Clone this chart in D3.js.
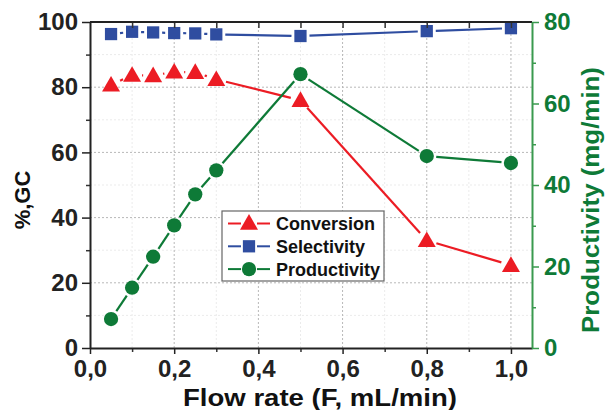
<!DOCTYPE html>
<html>
<head>
<meta charset="utf-8">
<script src="https://cdn.jsdelivr.net/npm/d3@7/dist/d3.min.js"></script>
<style>
  body { margin: 0; background: #fff; }
  svg, svg text { font-family: "Liberation Sans", Arial, sans-serif; font-weight: bold; }
</style>
</head>
<body>
<svg id="chart" width="606" height="410"></svg>
<script>
var flowRates = [0.05, 0.1, 0.15, 0.2, 0.25, 0.3, 0.5, 0.8, 1.0];
var conversion = [80.7, 83.7, 83.6, 84.7, 84.6, 82.4, 76.0, 33.0, 25.4];
var selectivity = [96.3, 97.0, 96.8, 96.6, 96.5, 96.2, 95.7, 97.2, 98.1];
var productivity = [7.1, 14.8, 22.4, 30.1, 37.7, 43.6, 67.2, 47.1, 45.4];
var xTicks = [0, 0.2, 0.4, 0.6, 0.8, 1.0];
var leftTicks = [0, 20, 40, 60, 80, 100];
var rightTicks = [0, 20, 40, 60, 80];
var seriesNames = ['Conversion', 'Selectivity', 'Productivity'];

var RED = '#ec1c24', BLUE = '#2f4da0', GREEN = '#0e7a37', AXGREEN = '#3a9a4e';
var FONT = '"Liberation Sans", Arial, sans-serif';

var svg = d3.select('#chart');
var x = d3.scaleLinear().domain([0, 1.05]).range([90, 532]);
var yL = d3.scaleLinear().domain([0, 100]).range([348, 22]);
var yR = d3.scaleLinear().domain([0, 80]).range([348, 22]);
var fmt = function (d) { return d3.format('.1f')(d).replace('.', ','); };

// grid
var grid = svg.append('g').attr('class', 'grid');
var minorX = d3.range(0.1, 1.05, 0.2), minorY = d3.range(10, 100, 20);
grid.selectAll('line.mx').data(minorX).enter().append('line')
    .attr('x1', x).attr('x2', x).attr('y1', 22).attr('y2', 348)
    .attr('stroke', '#ebebeb').attr('stroke-width', 1).attr('stroke-dasharray', '2,2');
grid.selectAll('line.my').data(minorY).enter().append('line')
    .attr('y1', yL).attr('y2', yL).attr('x1', 90).attr('x2', 532)
    .attr('stroke', '#ebebeb').attr('stroke-width', 1).attr('stroke-dasharray', '2,2');
grid.selectAll('line.gx').data(xTicks.slice(1)).enter().append('line')
    .attr('x1', x).attr('x2', x).attr('y1', 22).attr('y2', 348)
    .attr('stroke', '#b8b8b8').attr('stroke-width', 1).attr('stroke-dasharray', '2,2');
grid.selectAll('line.gy').data(leftTicks.slice(1, 5)).enter().append('line')
    .attr('y1', yL).attr('y2', yL).attr('x1', 90).attr('x2', 532)
    .attr('stroke', '#b8b8b8').attr('stroke-width', 1).attr('stroke-dasharray', '2,2');

// gapped connecting lines (Origin style)
function drawSeries(vals, yScale, color, gap) {
    var pts = flowRates.map(function (f, i) { return [x(f), yScale(vals[i])]; });
    var segs = [];
    for (var i = 0; i < pts.length - 1; i++) {
        var a = pts[i], b = pts[i + 1];
        var dx = b[0] - a[0], dy = b[1] - a[1], len = Math.sqrt(dx * dx + dy * dy);
        if (len <= 2 * gap) continue;
        var ux = dx / len, uy = dy / len;
        segs.push([a[0] + ux * gap, a[1] + uy * gap, b[0] - ux * gap, b[1] - uy * gap]);
    }
    svg.append('g').selectAll('line').data(segs).enter().append('line')
        .attr('x1', function (s) { return s[0]; }).attr('y1', function (s) { return s[1]; })
        .attr('x2', function (s) { return s[2]; }).attr('y2', function (s) { return s[3]; })
        .attr('stroke', color).attr('stroke-width', 2.2);
    return pts;
}

var sym = {
    Conversion: d3.symbol().type(d3.symbolTriangle).size(140),
    Selectivity: d3.symbol().type(d3.symbolSquare).size(150),
    Productivity: d3.symbol().type(d3.symbolCircle).size(160)
};

function drawMarkers(pts, name, color, dy) {
    svg.append('g').selectAll('path').data(pts).enter().append('path')
        .attr('d', sym[name]())
        .attr('transform', function (p) { return 'translate(' + p[0] + ',' + (p[1] + dy) + ')'; })
        .attr('fill', color);
}

var pC = drawSeries(conversion, yL, RED, 10);
var pS = drawSeries(selectivity, yL, BLUE, 9);
var pP = drawSeries(productivity, yR, GREEN, 9.5);
drawMarkers(pS, 'Selectivity', BLUE, 0);
drawMarkers(pC, 'Conversion', RED, 1.5);
drawMarkers(pP, 'Productivity', GREEN, 0);

// axes
function styleAxis(g, color) {
    g.attr('font-family', FONT);
    g.select('.domain').attr('stroke', color).attr('stroke-width', 2);
    g.selectAll('.tick line').attr('stroke', color).attr('stroke-width', 1.5);
    g.selectAll('.tick text').attr('fill', color).style('font-size', '24px').style('font-weight', 'bold');
}

svg.append('g').attr('transform', 'translate(0,348)')
    .call(d3.axisBottom(x).tickValues(minorX).tickSize(4).tickFormat(''))
    .call(function (g) { g.select('.domain').remove(); g.selectAll('line').attr('stroke', '#333').attr('stroke-width', 1.5); });
svg.append('g').attr('transform', 'translate(0,22)')
    .call(d3.axisBottom(x).tickValues(d3.range(0.1, 1.05, 0.1)).tickSize(6).tickFormat(''))
    .call(function (g) { g.select('.domain').remove(); g.selectAll('line').attr('stroke', '#333').attr('stroke-width', 1.5); });
svg.append('line').attr('x1', 90).attr('x2', 532).attr('y1', 22).attr('y2', 22)
    .attr('stroke', '#222').attr('stroke-width', 2);
svg.append('g').attr('transform', 'translate(90,0)')
    .call(d3.axisLeft(yL).tickValues(minorY).tickSize(4).tickFormat(''))
    .call(function (g) { g.select('.domain').remove(); g.selectAll('line').attr('stroke', '#333').attr('stroke-width', 1.5); });
svg.append('g').attr('transform', 'translate(532,0)')
    .call(d3.axisRight(yR).tickValues(d3.range(10, 80, 20)).tickSize(4).tickFormat(''))
    .call(function (g) { g.select('.domain').remove(); g.selectAll('line').attr('stroke', AXGREEN).attr('stroke-width', 1.5); });

svg.append('g').attr('transform', 'translate(0,348)')
    .call(d3.axisBottom(x).tickValues(xTicks).tickSize(6).tickPadding(6).tickSizeOuter(0).tickFormat(fmt))
    .call(function (g) { styleAxis(g, '#222'); });
svg.append('g').attr('transform', 'translate(90,0)')
    .call(d3.axisLeft(yL).tickValues(leftTicks).tickSize(8).tickPadding(4).tickSizeOuter(0))
    .call(function (g) { styleAxis(g, '#222'); });
svg.append('g').attr('transform', 'translate(532,0)')
    .call(d3.axisRight(yR).tickValues(rightTicks).tickSize(7).tickPadding(5).tickSizeOuter(0))
    .call(function (g) { styleAxis(g, AXGREEN); g.selectAll('.tick text').attr('fill', GREEN); });

// titles
svg.append('text').attr('x', 320).attr('y', 406).attr('text-anchor', 'middle')
    .attr('textLength', 274).attr('lengthAdjust', 'spacingAndGlyphs')
    .style('font-size', '24px').attr('fill', '#111').text('Flow rate (F, mL/min)');
svg.append('text').attr('transform', 'translate(30,200) rotate(-90)').attr('text-anchor', 'middle')
    .style('font-size', '22px').attr('fill', '#111').text('%,GC');
svg.append('text').attr('transform', 'translate(599,200) rotate(-90)').attr('text-anchor', 'middle')
    .attr('textLength', 266).attr('lengthAdjust', 'spacingAndGlyphs')
    .style('font-size', '24px').attr('fill', GREEN).text('Productivity (mg/min)');

// legend
var legend = svg.append('g').attr('transform', 'translate(222,211)');
legend.append('rect').attr('width', 162).attr('height', 70)
    .attr('fill', '#fff').attr('stroke', '#666').attr('stroke-width', 1.2);
var colors = [RED, BLUE, GREEN];
var rows = legend.selectAll('g.row').data(seriesNames).enter().append('g')
    .attr('transform', function (d, i) { return 'translate(0,' + (12.5 + i * 22.8) + ')'; });
rows.append('line').attr('x1', 6).attr('x2', 19).attr('stroke', function (d, i) { return colors[i]; }).attr('stroke-width', 2);
rows.append('line').attr('x1', 35).attr('x2', 48).attr('stroke', function (d, i) { return colors[i]; }).attr('stroke-width', 2);
rows.append('path').attr('d', function (d) { return sym[d](); })
    .attr('transform', function (d, i) { return 'translate(27,' + (i === 0 ? 1 : 0) + ')'; })
    .attr('fill', function (d, i) { return colors[i]; });
rows.append('text').attr('x', 54).attr('y', 6.5).style('font-size', '18px').attr('fill', '#111').text(function (d) { return d; });
</script>
</body>
</html>
